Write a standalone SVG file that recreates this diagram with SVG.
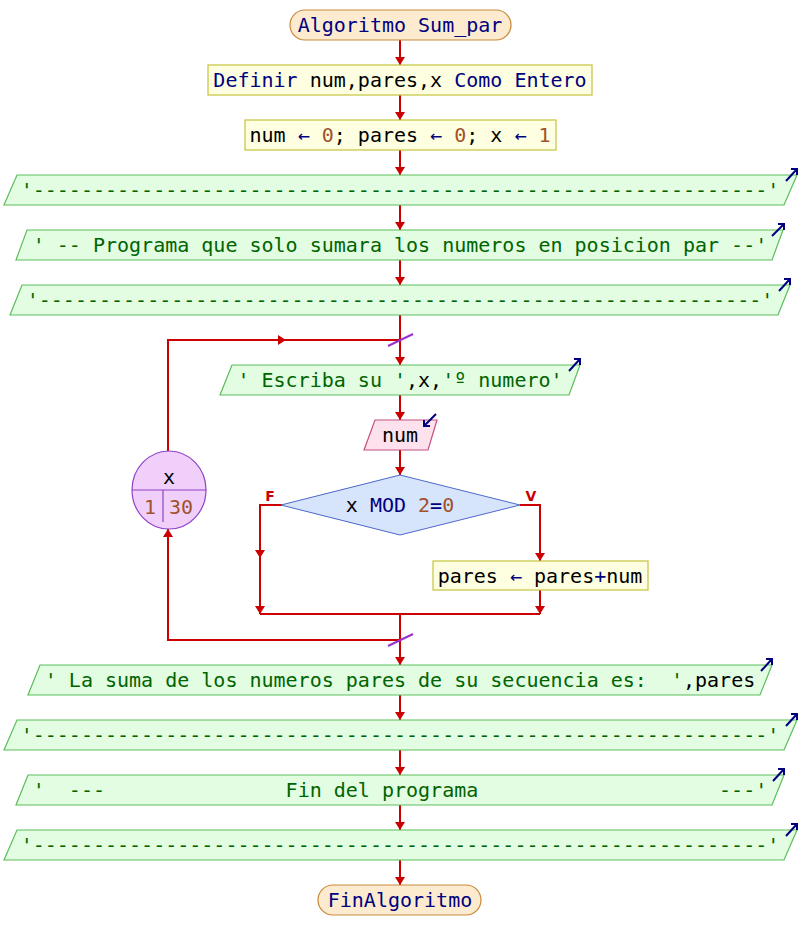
<svg xmlns="http://www.w3.org/2000/svg" width="800" height="950" viewBox="0 0 800 950">
<style>
text{font-family:"DejaVu Sans Mono","Liberation Mono",monospace;font-size:20px;fill:#000;}
.c{text-anchor:middle;}
.kw{fill:#00007f;}
.num{fill:#a0522d;}
.str{fill:#006400;}
.term{fill:#fdebd0;stroke:#c8893a;stroke-width:1.2;}
.proc{fill:#fefee0;stroke:#c4c43c;stroke-width:1.2;}
.out{fill:#e2fde2;stroke:#5cbd5c;stroke-width:1.2;}
.inp{fill:#fde2ee;stroke:#c4507e;stroke-width:1.2;}
.dec{fill:#d6e4fc;stroke:#4a68c8;stroke-width:1;}
.loop{fill:#f0d0fb;stroke:#9040c8;stroke-width:1.2;}
.ioarr{fill:none;stroke:#00007f;stroke-width:2;}
.conn{fill:none;stroke:#cc0000;stroke-width:2;}
.slash{stroke:#9932cc;stroke-width:2;}
.lbl{font-family:"DejaVu Sans","Liberation Sans",sans-serif;font-size:14px;font-weight:bold;fill:#cc0000;text-anchor:middle;}
</style>
<defs>
<marker id="ah" markerUnits="userSpaceOnUse" markerWidth="8" markerHeight="10" viewBox="0 0 8 10" refX="8" refY="5" orient="auto">
<path d="M0,0 L8,5 L0,10 z" fill="#cc0000"/>
</marker>
</defs>

<g id="connectors">
<path class="conn" d="M400,40 V65" marker-end="url(#ah)"/>
<path class="conn" d="M400,95 V120" marker-end="url(#ah)"/>
<path class="conn" d="M400,150 V175" marker-end="url(#ah)"/>
<path class="conn" d="M400,205 V230" marker-end="url(#ah)"/>
<path class="conn" d="M400,260 V285" marker-end="url(#ah)"/>
<path class="conn" d="M400,315 V365" marker-end="url(#ah)"/>
<path class="conn" d="M168,451 V340 H286" marker-end="url(#ah)"/>
<path class="conn" d="M284,340 H400"/>
<path class="conn" d="M400,395 V420" marker-end="url(#ah)"/>
<path class="conn" d="M400,450 V475" marker-end="url(#ah)"/>
<path class="conn" d="M282,505 H260 V558" marker-end="url(#ah)"/>
<path class="conn" d="M260,556 V614" marker-end="url(#ah)"/>
<path class="conn" d="M520,505 H540 V561" marker-end="url(#ah)"/>
<path class="conn" d="M540,590 V614" marker-end="url(#ah)"/>
<path class="conn" d="M260,614 H540"/>
<path class="conn" d="M400,614 V665" marker-end="url(#ah)"/>
<path class="conn" d="M400,640 H168 V529" marker-end="url(#ah)"/>
<path class="conn" d="M400,695 V720" marker-end="url(#ah)"/>
<path class="conn" d="M400,750 V775" marker-end="url(#ah)"/>
<path class="conn" d="M400,805 V830" marker-end="url(#ah)"/>
<path class="conn" d="M400,860 V885" marker-end="url(#ah)"/>
<line class="slash" x1="388" y1="346" x2="413" y2="334"/>
<line class="slash" x1="388" y1="646" x2="413" y2="634"/>
<text class="lbl" x="270" y="501">F</text>
<text class="lbl" x="531" y="501">V</text>
</g>

<g id="start">
<rect class="term" x="290" y="10" width="221" height="30" rx="15"/>
<text class="c kw" x="400" y="32">Algoritmo Sum_par</text>
</g>

<g id="definir">
<rect class="proc" x="208" y="65" width="384" height="30"/>
<text class="c" x="400" y="87"><tspan class="kw">Definir</tspan> num,pares,x <tspan class="kw">Como Entero</tspan></text>
</g>

<g id="asignar">
<rect class="proc" x="245" y="120" width="311" height="30"/>
<text class="c" x="400" y="142">num <tspan class="kw">←</tspan> <tspan class="num">0</tspan>; pares <tspan class="kw">←</tspan> <tspan class="num">0</tspan>; x <tspan class="kw">←</tspan> <tspan class="num">1</tspan></text>
</g>

<g id="out1">
<polygon class="out" points="17,175 797,175 784,205 4,205"/>
<text class="c str" x="400" y="197">'-------------------------------------------------------------'</text>
<path class="ioarr" d="M786,181 L797,169 M791,169 H797 V175"/>
</g>

<g id="out2">
<polygon class="out" points="27,230 783,230 772,260 16,260"/>
<text class="c str" x="400" y="252" xml:space="preserve">' -- Programa que solo sumara los numeros en posicion par --'</text>
<path class="ioarr" d="M772,236 L784,224 M778,224 H784 V230"/>
</g>

<g id="out3">
<polygon class="out" points="22,285 790,285 778,315 10,315"/>
<text class="c str" x="400" y="307">'------------------------------------------------------------'</text>
<path class="ioarr" d="M779,291 L790,279 M784,279 H790 V285"/>
</g>

<g id="out4">
<polygon class="out" points="232,365 580,365 569,395 220,395"/>
<text class="c" x="400" y="387" xml:space="preserve"><tspan class="str">' Escriba su '</tspan>,x,<tspan class="str">'º numero'</tspan></text>
<path class="ioarr" d="M569,371 L580,359 M574,359 H580 V365"/>
</g>

<g id="input">
<polygon class="inp" points="375,420 437,420 428,450 364,450"/>
<text class="c" x="400" y="442">num</text>
<path class="ioarr" d="M436,414 L424,426 M424,420 V426 H430"/>
</g>

<g id="decision">
<polygon class="dec" points="400,475 520,505 400,535 281,505"/>
<text class="c" x="400" y="512">x <tspan class="kw">MOD</tspan> <tspan class="num">2</tspan><tspan class="kw">=</tspan><tspan class="num">0</tspan></text>
</g>

<g id="suma">
<rect class="proc" x="433" y="561" width="215" height="29"/>
<text class="c" x="540" y="583">pares <tspan class="kw">←</tspan> pares<tspan class="kw">+</tspan>num</text>
</g>

<g id="para">
<ellipse class="loop" cx="169" cy="490" rx="37" ry="39"/>
<line class="loop" x1="132" y1="490" x2="206" y2="490"/>
<line class="loop" x1="163" y1="490" x2="163" y2="522"/>
<text class="c" x="169" y="484">x</text>
<text class="c num" x="150" y="514">1</text>
<text class="c num" x="181" y="514">30</text>
</g>

<g id="out5">
<polygon class="out" points="40,665 772,665 760,695 28,695"/>
<text class="c" x="400" y="687" xml:space="preserve"><tspan class="str">' La suma de los numeros pares de su secuencia es:  '</tspan>,pares</text>
<path class="ioarr" d="M761,671 L772,659 M766,659 H772 V665"/>
</g>

<g id="out6">
<polygon class="out" points="17,720 797,720 784,750 4,750"/>
<text class="c str" x="400" y="742">'-------------------------------------------------------------'</text>
<path class="ioarr" d="M786,726 L797,714 M791,714 H797 V720"/>
</g>

<g id="out7">
<polygon class="out" points="28,775 784,775 772,805 16,805"/>
<text class="c str" x="400" y="797" xml:space="preserve">'  ---               Fin del programa                    ---'</text>
<path class="ioarr" d="M773,781 L784,769 M778,769 H784 V775"/>
</g>

<g id="out8">
<polygon class="out" points="17,830 797,830 784,860 4,860"/>
<text class="c str" x="400" y="852">'-------------------------------------------------------------'</text>
<path class="ioarr" d="M786,836 L797,824 M791,824 H797 V830"/>
</g>

<g id="end">
<rect class="term" x="318" y="885" width="163" height="30" rx="15"/>
<text class="c kw" x="400" y="907">FinAlgoritmo</text>
</g>
</svg>
